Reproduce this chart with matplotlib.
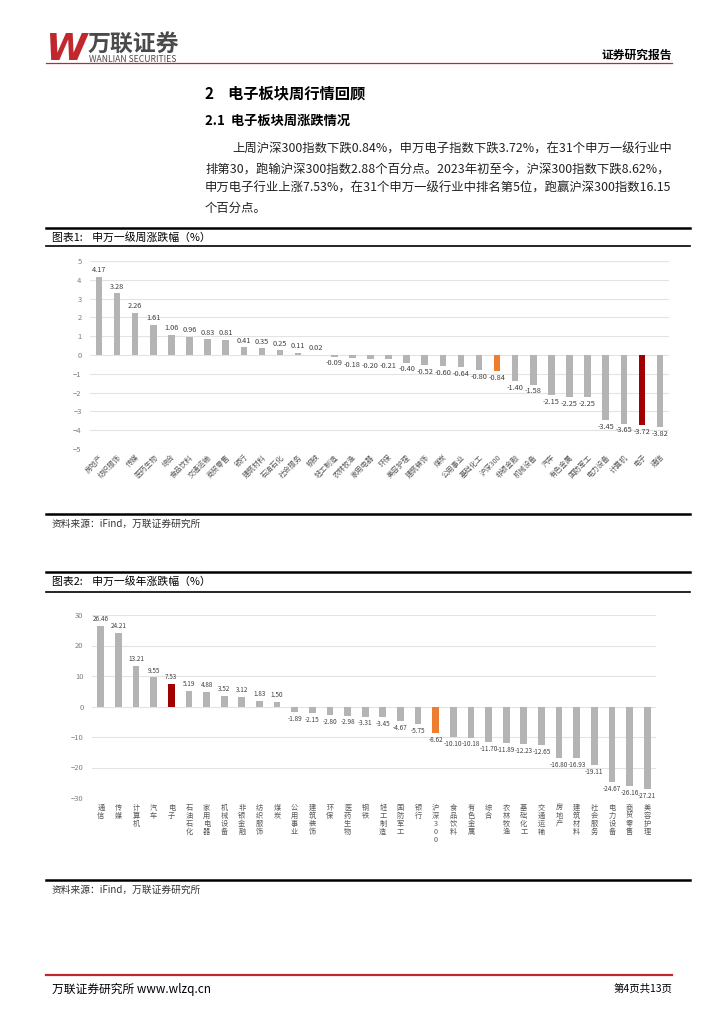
import matplotlib
matplotlib.use("Agg")
import matplotlib.pyplot as plt
from matplotlib.lines import Line2D

plt.rcParams['font.family'] = ['Noto Sans CJK SC', 'DejaVu Sans']

# weekly change by SW level-1 industry (%)
week_names = ["房地产", "纺织服饰", "传媒", "医药生物", "综合", "食品饮料", "交通运输", "商贸零售",
              "银行", "建筑材料", "石油石化", "社会服务", "钢铁", "轻工制造", "农林牧渔", "家用电器",
              "环保", "美容护理", "建筑装饰", "煤炭", "公用事业", "基础化工", "沪深300", "非银金融",
              "机械设备", "汽车", "有色金属", "国防军工", "电力设备", "计算机", "电子", "通信"]
week_vals = [4.17, 3.28, 2.26, 1.61, 1.06, 0.96, 0.83, 0.81, 0.41, 0.35, 0.25, 0.11, 0.02,
             -0.09, -0.18, -0.20, -0.21, -0.40, -0.52, -0.60, -0.64, -0.80, -0.84, -1.40,
             -1.58, -2.15, -2.25, -2.25, -3.45, -3.65, -3.72, -3.82]

# year-to-date change (%)
year_names = ["通信", "传媒", "计算机", "汽车", "电子", "石油石化", "家用电器", "机械设备",
              "非银金融", "纺织服饰", "煤炭", "公用事业", "建筑装饰", "环保", "医药生物", "钢铁",
              "轻工制造", "国防军工", "银行", "沪深300", "食品饮料", "有色金属", "综合", "农林牧渔",
              "基础化工", "交通运输", "房地产", "建筑材料", "社会服务", "电力设备", "商贸零售", "美容护理"]
year_vals = [26.46, 24.21, 13.21, 9.55, 7.53, 5.19, 4.88, 3.52, 3.12, 1.83, 1.50, -1.89,
             -2.15, -2.80, -2.98, -3.31, -3.45, -4.67, -5.75, -8.62, -10.10, -10.18, -11.70,
             -11.89, -12.23, -12.65, -16.80, -16.93, -19.11, -24.67, -26.16, -27.21]

GREY = "#b4b4b4"
RED = "#a00000"
ORANGE = "#ed7d31"


def bar_colors(names):
    cols = []
    for n in names:
        if n == "电子":
            cols.append(RED)
        elif n == "沪深300":
            cols.append(ORANGE)
        else:
            cols.append(GREY)
    return cols


W, H = 724, 1024
fig = plt.figure(figsize=(7.24, 10.24), dpi=100)


def hline(y, x0, x1, lw, color):
    fig.add_artist(Line2D([x0 / W, x1 / W], [1 - y / H, 1 - y / H], lw=lw, color=color))


def txt(x, y, s, **kw):
    fig.text(x / W, 1 - y / H, s, **kw)


# header
txt(46, 50, "W", fontsize=27, color="#c0282d", fontweight="bold", style="italic",
    family="DejaVu Sans", va="center")
txt(88, 44, "万联证券", fontsize=16.5, color="#4a4a4a", fontweight="bold", va="center")
txt(89, 60, "WANLIAN SECURITIES", fontsize=6.2, color="#4a4a4a", va="center")
txt(672, 55, "证券研究报告", fontsize=8.5, fontweight="bold", ha="right", va="center")
hline(63, 46, 672, 0.9, "#c0282d")

# headings and paragraph
txt(205, 93, "2    电子板块周行情回顾", fontsize=11, fontweight="bold", va="center")
txt(205, 121, "2.1  电子板块周涨跌情况", fontsize=9.5, fontweight="bold", va="center")
lines = ["上周沪深300指数下跌0.84%，申万电子指数下跌3.72%，在31个申万一级行业中",
         "排第30，跑输沪深300指数2.88个百分点。2023年初至今，沪深300指数下跌8.62%，",
         "申万电子行业上涨7.53%，在31个申万一级行业中排名第5位，跑赢沪深300指数16.15",
         "个百分点。"]
for i, s in enumerate(lines):
    x = 232 if i == 0 else 205
    txt(x, 149 + i * 19.7, s, fontsize=8.9, va="center", color="#222222")

# chart 1 frame
hline(228, 46, 690, 1.8, "black")
txt(52, 237, "图表1:    申万一级周涨跌幅（%）", fontsize=7.8, va="center")
hline(246, 46, 690, 1.2, "black")
hline(514, 46, 690, 1.8, "black")
txt(52, 524, "资料来源：iFind，万联证券研究所", fontsize=7, style="italic", va="center",
    color="#333333")

# chart 2 frame
hline(572, 46, 690, 1.8, "black")
txt(52, 582, "图表2:    申万一级年涨跌幅（%）", fontsize=7.8, va="center")
hline(592, 46, 690, 1.2, "black")
hline(880, 46, 690, 1.8, "black")
txt(52, 890, "资料来源：iFind，万联证券研究所", fontsize=7, style="italic", va="center",
    color="#333333")

# footer
hline(975, 46, 672, 1.6, "#c0282d")
txt(52, 989, "万联证券研究所 www.wlzq.cn", fontsize=8.5, va="center")
txt(672, 989, "第4页共13页", fontsize=7.5, ha="right", va="center")


def style_axis(ax, ymin, ymax, step):
    ax.set_ylim(ymin, ymax)
    ax.set_yticks(range(ymin, ymax + 1, step))
    ax.grid(axis="y", color="#e3e3e3", lw=0.8)
    ax.set_axisbelow(True)
    for sp in ax.spines.values():
        sp.set_visible(False)
    ax.tick_params(axis="both", length=0)
    ax.tick_params(axis="y", labelsize=5.5, labelcolor="#7f7f7f", pad=6)


# chart 1: weekly
ax1 = fig.add_axes([90 / W, 1 - 449 / H, (669 - 90) / W, (449 - 261) / H])
x1 = range(len(week_names))
bars1 = ax1.bar(x1, week_vals, width=0.36, color=bar_colors(week_names))
ax1.bar_label(bars1, fmt="%.2f", fontsize=5.3, color="#404040", padding=2)
ax1.set_xlim(-0.5, len(week_names) - 0.5)
style_axis(ax1, -5, 5, 1)
ax1.set_xticks(list(x1))
ax1.set_xticklabels(week_names, rotation=45, ha="right", rotation_mode="anchor",
                    fontsize=5.2, color="#595959")
ax1.tick_params(axis="x", pad=3)

# chart 2: year to date
ax2 = fig.add_axes([92 / W, 1 - 798 / H, (656 - 92) / W, (798 - 615) / H])
x2 = range(len(year_names))
bars2 = ax2.bar(x2, year_vals, width=0.38, color=bar_colors(year_names))
ax2.bar_label(bars2, fmt="%.2f", fontsize=4.6, color="#404040", padding=2)
ax2.set_xlim(-0.5, len(year_names) - 0.5)
style_axis(ax2, -30, 30, 10)
ax2.set_xticks(list(x2))
ax2.set_xticklabels(["\n".join(n) if n != "沪深300" else "沪\n深\n3\n0\n0" for n in year_names],
                    fontsize=5.2, color="#595959", va="top", linespacing=1.0)
ax2.tick_params(axis="x", pad=4)

fig.savefig("out.png", dpi=100)
